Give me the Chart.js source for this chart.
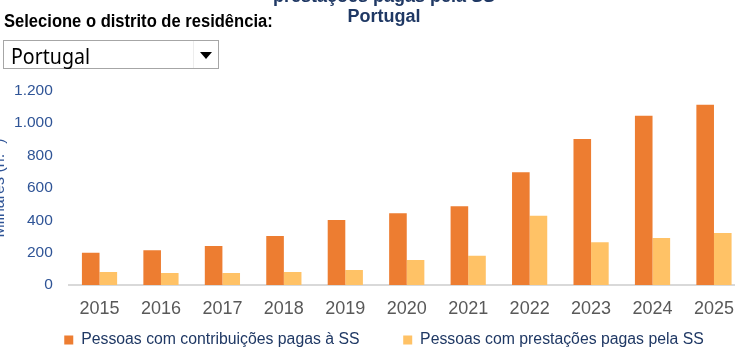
<!DOCTYPE html>
<html>
<head>
<meta charset="utf-8">
<script src="https://cdn.jsdelivr.net/npm/chart.js@4.4.1/dist/chart.umd.min.js"></script>
<style>
  html, body { margin: 0; padding: 0; overflow: hidden; background: #fff; }
  body { position: relative; width: 735px; height: 349px; }
  #chart { position: absolute; left: -10px; top: -13px; }
  #sel {
    position: absolute; left: 4px; top: 11.5px; white-space: nowrap;
    font: bold 18px/18px "Liberation Sans", Arial, sans-serif; color: #000;
    transform: scaleX(0.92); transform-origin: 0 0;
  }
  #box {
    position: absolute; left: 3px; top: 40px; width: 216px; height: 29px;
    box-sizing: border-box; border: 1px solid #a6a6a6; background: #fff;
  }
  #boxText {
    position: absolute; left: 7px; top: 4px; white-space: nowrap;
    font: 22.5px/22.5px "Noto Sans", "Open Sans", sans-serif; color: #000;
    transform: scaleX(0.87); transform-origin: 0 0;
  }
  #divider { position: absolute; left: 189px; top: 0; width: 1px; height: 27px; background: #ededed; }
  #arrow {
    position: absolute; left: 196px; top: 11px; width: 0; height: 0;
    border-left: 6px solid transparent; border-right: 6px solid transparent;
    border-top: 7px solid #000;
  }
</style>
</head>
<body>
<canvas id="chart" width="788" height="402"></canvas>
<div id="sel">Selecione o distrito de residência:</div>
<div id="box"><span id="boxText">Portugal</span><div id="divider"></div><div id="arrow"></div></div>
<script>
// values (milhares)
const years = ['2015', '2016', '2017', '2018', '2019', '2020', '2021', '2022', '2023', '2024', '2025'];
const contribuicoes = [200, 214, 241, 303, 402, 443, 486, 697, 902, 1046, 1114];
const prestacoes = [80, 74, 74, 80, 93, 155, 181, 428, 264, 290, 321];
const yTickLabels = ['0', '200', '400', '600', '800', '1.000', '1.200'];
const seriesNames = ['Pessoas com contribuições pagas à SS', 'Pessoas com prestações pagas pela SS'];
const titleLines = ['prestações pagas pela SS', 'Portugal'];
const yTitle = 'Milhares (n.º )';

Chart.defaults.font.family = '"Liberation Sans", Arial, sans-serif';

// the legend needs wide spacing between its items but must sit close to the axis labels,
// so pull it up a bit once the layout is done
const legendNudge = {
    id: 'legendNudge',
    afterLayout(chart, args, opts) {
        chart.legend.top -= opts.dy;
        chart.legend.bottom -= opts.dy;
    }
};

const ctx = document.getElementById('chart').getContext('2d');

new Chart(ctx, {
    type: 'bar',
    plugins: [legendNudge],
    data: {
        labels: years,
        datasets: [{
            label: seriesNames[0],
            data: contribuicoes,
            backgroundColor: '#ed7d31',
            borderWidth: 0,
            yAxisID: 'y',
            categoryPercentage: 0.573,
            barPercentage: 1.0
        }, {
            label: seriesNames[1],
            data: prestacoes,
            backgroundColor: '#ffc266',
            borderWidth: 0,
            yAxisID: 'y',
            categoryPercentage: 0.573,
            barPercentage: 1.0
        }]
    },
    options: {
        responsive: false,
        animation: false,
        devicePixelRatio: 1,
        layout: { padding: 0 },
        scales: {
            x: {
                offset: true,
                grid: { display: false, drawTicks: false },
                border: { display: true, color: '#d9d9d9', width: 2 },
                ticks: {
                    color: '#595959',
                    font: { size: 18 },
                    padding: 13,
                    maxRotation: 0,
                    autoSkip: false
                },
                afterFit: (scale) => { scale.height = 34.5; }
            },
            y: {
                position: 'left',
                min: 0,
                max: 1200,
                grid: { display: false, drawTicks: false },
                border: { display: false },
                ticks: {
                    stepSize: 200,
                    color: '#2f5496',
                    font: { size: 15.5 },
                    padding: 16,
                    callback: (value, index) => yTickLabels[index]
                },
                title: {
                    display: true,
                    text: yTitle,
                    color: '#2f5496',
                    font: { size: 16 },
                    padding: 0
                },
                afterFit: (scale) => { scale.width = 78.8; }
            },
            // empty spacer on the right so the legend can run past the plot edge
            yRight: {
                position: 'right',
                grid: { display: false, drawTicks: false },
                border: { display: false },
                ticks: { display: false },
                afterFit: (scale) => { scale.width = 33.3; }
            }
        },
        plugins: {
            title: {
                display: true,
                text: titleLines,
                color: '#1f3864',
                font: { size: 18, weight: 'bold', lineHeight: 20 / 18 },
                padding: { top: 0, bottom: 63.8 }
            },
            legend: {
                display: true,
                position: 'bottom',
                labels: {
                    color: '#1f3864',
                    font: { size: 15.8 },
                    boxWidth: 9,
                    boxHeight: 9,
                    padding: 43.7
                }
            },
            legendNudge: { dy: 31 },
            tooltip: { enabled: false }
        }
    }
});
</script>
</body>
</html>
